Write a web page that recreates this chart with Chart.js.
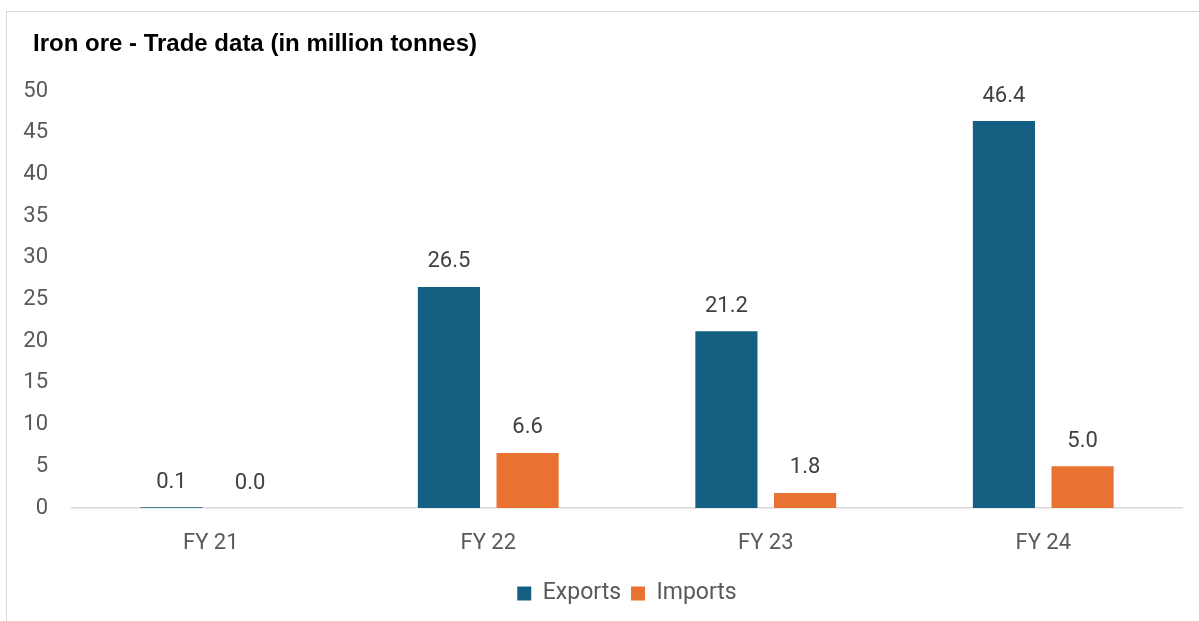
<!DOCTYPE html>
<html>
<head>
<meta charset="utf-8">
<title>Iron ore - Trade data</title>
<script src="https://cdn.jsdelivr.net/npm/chart.js@4.4.1/dist/chart.umd.min.js"></script>
<style>
    html, body { margin: 0; padding: 0; background: #fff; overflow: hidden; }
    #wrap { position: relative; width: 1199px; height: 621px; }
    #frame {
        position: absolute; left: 6px; top: 11px; width: 1300px; height: 700px;
        border-top: 1px solid #d9d9d9; border-left: 1px solid #d9d9d9;
    }
    #tradeChart { position: absolute; left: 0; top: 0; }
</style>
</head>
<body>
<div id="wrap">
    <div id="frame"></div>
    <canvas id="tradeChart" width="1199" height="621"></canvas>
</div>
<script>
// chart data
const years = ["FY 21", "FY 22", "FY 23", "FY 24"];
const exportsData = [0.1, 26.5, 21.2, 46.4];
const importsData = [0.0, 6.6, 1.8, 5.0];
const yTicks = [0, 5, 10, 15, 20, 25, 30, 35, 40, 45, 50];
const chartTitle = "Iron ore - Trade data (in million tonnes)";

const tickFont = { family: "Roboto, 'Open Sans', sans-serif", size: 22 };
const greyText = '#595959';

// draws the title left aligned, like the excel chart
const leftTitle = {
    id: 'leftTitle',
    afterDraw(chart) {
        const ctx = chart.ctx;
        ctx.save();
        ctx.font = "bold 24px 'Liberation Sans', Arial, sans-serif";
        ctx.fillStyle = '#000';
        ctx.textAlign = 'left';
        ctx.textBaseline = 'alphabetic';
        ctx.fillText(chartTitle, 33, 51);
        ctx.restore();
    }
};

// value labels above every bar
const barLabels = {
    id: 'barLabels',
    afterDatasetsDraw(chart) {
        const ctx = chart.ctx;
        ctx.save();
        ctx.font = "22px Roboto, 'Open Sans', sans-serif";
        ctx.fillStyle = '#404040';
        ctx.textAlign = 'center';
        ctx.textBaseline = 'middle';
        chart.data.datasets.forEach((ds, i) => {
            chart.getDatasetMeta(i).data.forEach((bar, j) => {
                ctx.fillText(ds.data[j].toFixed(1), bar.x, bar.y - 25);
            });
        });
        ctx.restore();
    }
};

const ctx = document.getElementById('tradeChart').getContext('2d');
new Chart(ctx, {
    type: 'bar',
    data: {
        labels: years,
        datasets: [
            {
                label: 'Exports',
                data: exportsData,
                backgroundColor: '#156082',
                categoryPercentage: 0.567,
                barPercentage: 0.79
            },
            {
                label: 'Imports',
                data: importsData,
                backgroundColor: '#E97132',
                categoryPercentage: 0.567,
                barPercentage: 0.79
            }
        ]
    },
    options: {
        responsive: false,
        animation: false,
        layout: {
            padding: { top: 91, left: 0, right: 17, bottom: 6 }
        },
        scales: {
            x: {
                afterFit(scale) {
                    scale.height = 64;
                },
                grid: { display: false, drawTicks: false },
                border: { display: true, color: '#d9d9d9', width: 1.5 },
                ticks: { color: greyText, font: tickFont, padding: 22 }
            },
            y: {
                min: 0,
                max: 50,
                afterBuildTicks(scale) {
                    scale.ticks = yTicks.map(v => ({ value: v }));
                },
                afterFit(scale) {
                    scale.width = 72;
                },
                grid: { display: false, drawTicks: false },
                border: { display: false },
                ticks: { color: greyText, font: tickFont, padding: 24 }
            }
        },
        plugins: {
            legend: {
                position: 'bottom',
                fullSize: false, // centre legend under the plot area, not the canvas
                labels: {
                    color: greyText,
                    font: { family: tickFont.family, size: 23 },
                    boxWidth: 14,
                    boxHeight: 14,
                    padding: 10
                }
            },
            tooltip: { enabled: false }
        }
    },
    plugins: [leftTitle, barLabels]
});
</script>
</body>
</html>
